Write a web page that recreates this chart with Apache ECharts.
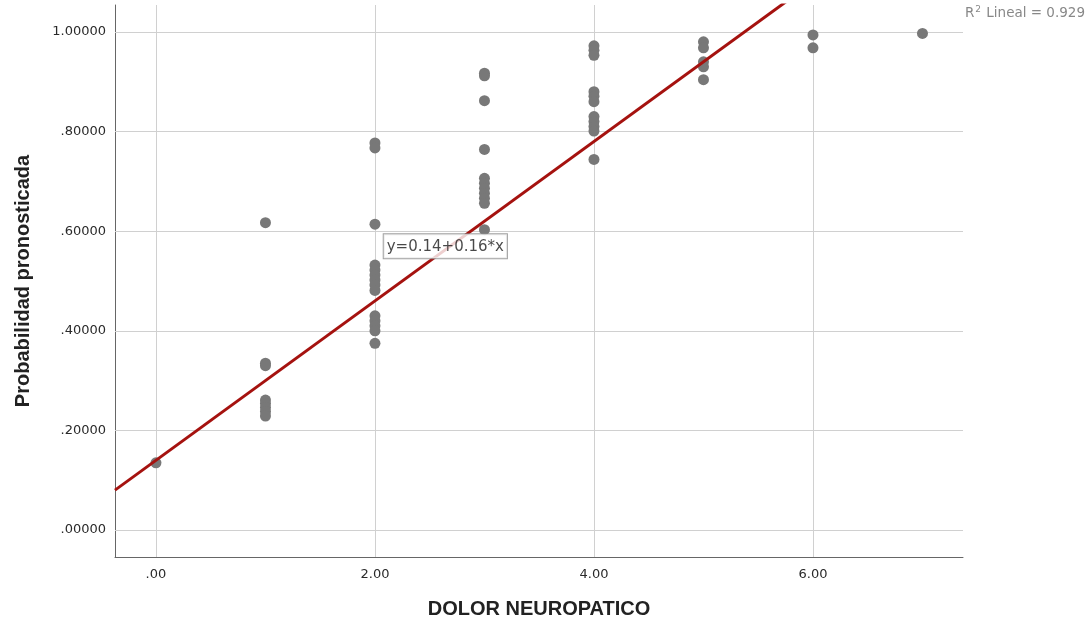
<!DOCTYPE html>
<html>
<head>
<meta charset="utf-8">
<script src="https://cdn.jsdelivr.net/npm/echarts@6/dist/echarts.min.js"></script>
<style>html,body{margin:0;padding:0;background:#fff;}#c{width:1087px;height:620px;}</style>
</head>
<body>
<div id="c"></div>
<script>
// DOLOR NEUROPATICO (x) values and predicted probabilities at each level
const dolorLevels = [0, 1, 2, 3, 4, 5, 6, 7];
const probAt0 = [0.135];
const probAt1 = [0.617, 0.335, 0.330, 0.261, 0.254, 0.246, 0.238, 0.229];
const probAt2 = [0.777, 0.767, 0.614, 0.532, 0.522, 0.512, 0.502, 0.492, 0.481, 0.430, 0.420, 0.410, 0.400, 0.375];
const probAt3 = [0.917, 0.912, 0.862, 0.764, 0.706, 0.696, 0.686, 0.676, 0.666, 0.656, 0.603];
const probAt4 = [0.972, 0.963, 0.953, 0.880, 0.871, 0.860, 0.830, 0.820, 0.810, 0.801, 0.744];
const probAt5 = [0.980, 0.968, 0.940, 0.930, 0.904];
const probAt6 = [0.994, 0.968];
const probAt7 = [0.997];
const probGroups = [probAt0, probAt1, probAt2, probAt3, probAt4, probAt5, probAt6, probAt7];

// Linear fit
const fitIntercept = 0.14;
const fitSlope = 0.16;
const r2Value = '0.929';
const fitLabel = 'y=0.14+0.16*x';

// Axis ranges and ticks
const xRange = [-0.374, 7.37];
const yRange = [-0.054, 1.054];
const xTicks = [0, 2, 4, 6];
const xTickLabels = ['.00', '2.00', '4.00', '6.00'];
const yTicks = [0, 0.2, 0.4, 0.6, 0.8, 1.0];
const yTickLabels = ['.00000', '.20000', '.40000', '.60000', '.80000', '1.00000'];

const points = [];
probGroups.forEach((g, i) => g.forEach(v => points.push([dolorLevels[i], v])));
const fitLine = xRange.map(x => [x, fitIntercept + fitSlope * x]);

const chart = echarts.init(document.getElementById('c'));
const font = 'DejaVu Sans, Verdana, sans-serif';
const boldFont = 'Liberation Sans, Arial, sans-serif';

const option = {
  animation: false,
  grid: {left: 115, right: 124, top: 5, bottom: 63, containLabel: false, outerBoundsMode: 'none'},
  xAxis: {
    type: 'value', min: xRange[0], max: xRange[1],
    name: 'DOLOR NEUROPATICO', nameLocation: 'middle', nameGap: 42,
    nameTextStyle: {fontFamily: boldFont, fontSize: 20, fontWeight: 'bold', color: '#222'},
    axisLine: {show: true, onZero: false, lineStyle: {color: '#666', width: 1}},
    axisTick: {show: false},
    splitLine: {show: false},
    axisLabel: {
      customValues: xTicks, fontFamily: font, fontSize: 13, color: '#2a2a2a', margin: 11,
      formatter: v => { const i = xTicks.findIndex(t => Math.abs(t - v) < 1e-9); return i >= 0 ? xTickLabels[i] : ''; }
    }
  },
  yAxis: {
    type: 'value', min: yRange[0], max: yRange[1],
    name: 'Probabilidad pronosticada', nameLocation: 'middle', nameGap: 82, nameRotate: 90,
    nameTextStyle: {fontFamily: boldFont, fontSize: 20, fontWeight: 'bold', color: '#222'},
    axisLine: {show: true, onZero: false, lineStyle: {color: '#666', width: 1}},
    axisTick: {show: true, customValues: yTicks, length: 5, inside: true, lineStyle: {color: '#888'}},
    splitLine: {show: false},
    axisLabel: {
      customValues: yTicks, fontFamily: font, fontSize: 13, color: '#2a2a2a', margin: 9,
      formatter: v => { const i = yTicks.findIndex(t => Math.abs(t - v) < 1e-9); return i >= 0 ? yTickLabels[i] : ''; }
    }
  },
  series: [
    {
      type: 'line', data: [], z: 1, silent: true,
      markLine: {
        silent: true, symbol: 'none', animation: false, z: 1,
        label: {show: false},
        emphasis: {disabled: true},
        lineStyle: {color: '#d0d0d0', width: 1, type: 'solid'},
        data: xTicks.map(t => ({xAxis: t})).concat(yTicks.map(t => ({yAxis: t})))
      }
    },
    {
      type: 'scatter', data: points, symbol: 'circle', symbolSize: 11, z: 3,
      itemStyle: {color: '#787878', opacity: 1}
    },
    {
      type: 'line', data: fitLine, showSymbol: false, symbol: 'none', z: 4, clip: true,
      lineStyle: {color: '#a5120f', width: 3}
    },
    {
      type: 'scatter', data: [[2.08, 0.594]], symbolSize: 0, z: 5, silent: true,
      label: {
        show: true, formatter: fitLabel, position: [0, 0], align: 'left', verticalAlign: 'top',
        fontFamily: font, fontSize: 15, color: '#1a1a1a',
        backgroundColor: '#fff', borderColor: '#8a8a8a', borderWidth: 1, padding: [5, 3, 4, 3]
      }
    }
  ],
  graphic: [
    {
      type: 'text', right: 2, top: 5,
      style: {
        text: '{n|R}{s|2}{n| Lineal = ' + r2Value + '}',
        rich: {
          n: {fontFamily: font, fontSize: 13.5, fill: '#888', verticalAlign: 'bottom'},
          s: {fontFamily: font, fontSize: 9, fill: '#888', verticalAlign: 'top', padding: [0, 1, 6, 1]}
        }
      }
    }
  ]
};
chart.setOption(option);
</script>
</body>
</html>
